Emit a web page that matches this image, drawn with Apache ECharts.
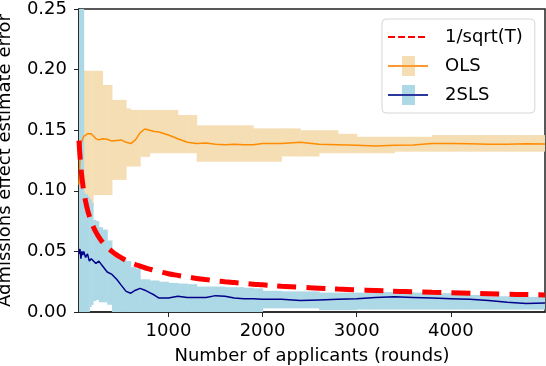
<!DOCTYPE html>
<html>
<head>
<meta charset="utf-8">
<script src="https://cdn.jsdelivr.net/npm/echarts@6/dist/echarts.min.js"></script>
<style>
  html, body { margin: 0; padding: 0; background: #fff; }
  #chart { width: 546px; height: 366px; }
</style>
</head>
<body>
<div id="chart"></div>
<script>
// rounds (number of applicants) sampled along the x axis
const rounds = [50, 60, 70, 80, 90, 100, 120, 140, 160, 180, 200, 230, 260, 300, 350, 400, 450, 500,
  550, 600, 650, 700, 750, 800, 850, 900, 1000, 1100, 1200, 1300, 1400, 1500, 1600, 1700, 1800, 1900,
  2000, 2200, 2400, 2600, 2800, 3000, 3200, 3400, 3600, 3800, 4000, 4200, 4400, 4600, 4800, 5000]

// 1/sqrt(T) reference curve
const refCurve = [0.1414, 0.1291, 0.1195, 0.1118, 0.1054, 0.1, 0.0913, 0.0845, 0.0791, 0.0745, 0.0707,
  0.0659, 0.062, 0.0577, 0.0535, 0.05, 0.0471, 0.0447, 0.0426, 0.0408, 0.0392, 0.0378, 0.0365, 0.0354,
  0.0343, 0.0333, 0.0316, 0.0302, 0.0289, 0.0277, 0.0267, 0.0258, 0.025, 0.0243, 0.0236, 0.0229,
  0.0224, 0.0213, 0.0204, 0.0196, 0.0189, 0.0183, 0.0177, 0.0171, 0.0167, 0.0162, 0.0158, 0.0154,
  0.0151, 0.0147, 0.0144, 0.0141]

const olsMean = [0.105, 0.125, 0.138, 0.141, 0.143, 0.145, 0.146, 0.147, 0.148, 0.147, 0.146,
  0.143, 0.142, 0.143, 0.1425, 0.141, 0.1415, 0.142, 0.140, 0.139, 0.142, 0.148, 0.151, 0.150,
  0.149, 0.1485, 0.146, 0.143, 0.140, 0.139, 0.1395, 0.1385, 0.138, 0.1385, 0.138, 0.138,
  0.139, 0.139, 0.140, 0.1385, 0.138, 0.1375, 0.137, 0.1375, 0.1378, 0.139, 0.139, 0.1388,
  0.1385, 0.1385, 0.1388, 0.1387]
const olsLow = [0.10, 0.081, 0.081, 0.081, 0.081, 0.081, 0.081, 0.087, 0.087, 0.087, 0.0965,
  0.0965, 0.0965, 0.0965, 0.0965, 0.109, 0.109, 0.109, 0.12, 0.12, 0.12, 0.128, 0.128, 0.131,
  0.131, 0.131, 0.131, 0.131, 0.131, 0.124, 0.124, 0.124, 0.124, 0.124, 0.124, 0.124,
  0.124, 0.1283, 0.1283, 0.131, 0.131, 0.131, 0.131, 0.1323, 0.1323, 0.1323, 0.1323, 0.1323,
  0.1323, 0.1323, 0.1323, 0.1323]
const olsHigh = [0.20, 0.199, 0.199, 0.199, 0.199, 0.199, 0.199, 0.199, 0.199, 0.199, 0.199,
  0.199, 0.199, 0.1873, 0.1873, 0.175, 0.175, 0.175, 0.168, 0.1667, 0.1667, 0.1667, 0.1667, 0.1667,
  0.1667, 0.1667, 0.1667, 0.1625, 0.1625, 0.154, 0.154, 0.154, 0.154, 0.154, 0.154, 0.1515,
  0.1515, 0.1515, 0.150, 0.150, 0.147, 0.1446, 0.1446, 0.1446, 0.1446, 0.146, 0.146, 0.146,
  0.146, 0.146, 0.146, 0.146]

const tslsMean = [0.048, 0.052, 0.044, 0.05, 0.047, 0.05, 0.045, 0.048, 0.042, 0.044, 0.043,
  0.040, 0.042, 0.038, 0.033, 0.031, 0.027, 0.022, 0.017, 0.0155, 0.018, 0.0195, 0.018, 0.016,
  0.014, 0.0115, 0.0115, 0.013, 0.012, 0.012, 0.012, 0.0135, 0.013, 0.0115, 0.011, 0.011,
  0.0105, 0.0105, 0.0095, 0.01, 0.0105, 0.011, 0.012, 0.0125, 0.012, 0.0115, 0.011, 0.0105,
  0.0095, 0.008, 0.007, 0.0075]
const tslsLow = [0, 0, 0, 0, 0, 0, 0, 0, 0.004, 0.006, 0.009,
  0.01, 0.008, 0.008, 0.006, 0, 0, 0, 0, 0, 0, 0, 0, 0,
  0, 0, 0, 0, 0, 0, 0, 0, 0, 0, 0, 0,
  0.003, 0.003, 0.003, 0.0015, 0.0015, 0.002, 0.002, 0.002, 0.002, 0.002, 0.002, 0.002,
  0.002, 0.002, 0.002, 0.002]
const tslsHigh = [0.3, 0.3, 0.3, 0.3, 0.3, 0.098, 0.097, 0.095, 0.093, 0.090, 0.076,
  0.075, 0.070, 0.068, 0.059, 0.048, 0.045, 0.044, 0.042, 0.037, 0.036, 0.027, 0.027, 0.026,
  0.026, 0.025, 0.024, 0.0235, 0.023, 0.021, 0.021, 0.021, 0.0205, 0.0205, 0.020, 0.0195,
  0.0175, 0.017, 0.017, 0.016, 0.016, 0.016, 0.0165, 0.0165, 0.016, 0.0155, 0.0145, 0.014,
  0.013, 0.013, 0.0125, 0.0125]

const xTicks = [1000, 2000, 3000, 4000]
const yTicks = [0, 0.05, 0.1, 0.15, 0.2, 0.25]

const font = 'DejaVu Sans'

function pairs(vals) {
  return rounds.map((t, i) => [t, vals[i]])
}
// each band step: [from, to, low, high]
function steps(low, high) {
  const out = []
  for (let i = 0; i < rounds.length - 1; i++) {
    out.push([rounds[i], rounds[i + 1], low[i], high[i]])
  }
  return out
}
function icon(svg) {
  return 'image://data:image/svg+xml;charset=utf-8,' + encodeURIComponent(svg)
}
const iconRef = icon('<svg xmlns="http://www.w3.org/2000/svg" width="40" height="24"><line x1="0" y1="12" x2="40" y2="12" stroke="#ff0000" stroke-width="2" stroke-dasharray="7,3"/></svg>')
const iconOls = icon('<svg xmlns="http://www.w3.org/2000/svg" width="40" height="24"><rect x="14" y="2" width="13" height="20" fill="#f5deb3"/><line x1="0" y1="12" x2="40" y2="12" stroke="#ff9a33" stroke-width="2"/></svg>')
const iconTsls = icon('<svg xmlns="http://www.w3.org/2000/svg" width="40" height="24"><rect x="14" y="2" width="13" height="20" fill="#add8e6"/><line x1="0" y1="12" x2="40" y2="12" stroke="#2a389c" stroke-width="2"/></svg>')

function band(name, data, color) {
  return {
    name: name,
    type: 'custom',
    silent: true,
    data: data,
    encode: { x: [0, 1], y: [2, 3] },
    renderItem: function(params, api) {
      const p0 = api.coord([api.value(0), api.value(3)])
      const p1 = api.coord([api.value(1), api.value(2)])
      const shape = echarts.graphic.clipRectByRect({
        x: p0[0], y: p0[1], width: p1[0] - p0[0] + 0.5, height: p1[1] - p0[1]
      }, {
        x: params.coordSys.x, y: params.coordSys.y,
        width: params.coordSys.width, height: params.coordSys.height
      })
      return shape && { type: 'rect', shape: shape, style: { fill: color } }
    }
  }
}

const chart = echarts.init(document.getElementById('chart'), null, { renderer: 'canvas' })
chart.setOption({
  animation: false,
  backgroundColor: '#fff',
  grid: {
    left: 79, right: 1, top: 9, bottom: 54,
    outerBoundsMode: 'none',
    containLabel: false,
    show: true, borderColor: '#222', borderWidth: 1.5
  },
  legend: {
    orient: 'vertical',
    left: 382, top: 19,
    padding: [6, 12, 6, 6],
    itemGap: 5,
    itemWidth: 40, itemHeight: 24,
    borderColor: '#d6d6d6', borderWidth: 1, borderRadius: 4,
    backgroundColor: '#fff',
    textStyle: { fontFamily: font, fontSize: 18, color: '#000', padding: [0, 0, 0, 12] },
    data: [
      { name: '1/sqrt(T)', icon: iconRef },
      { name: 'OLS', icon: iconOls },
      { name: '2SLS', icon: iconTsls }
    ]
  },
  xAxis: {
    type: 'value',
    min: 50, max: 5000,
    name: 'Number of applicants (rounds)',
    nameLocation: 'middle',
    nameGap: 35,
    nameTextStyle: { fontFamily: font, fontSize: 18, color: '#000' },
    splitLine: { show: false },
    axisLine: { show: true, lineStyle: { color: '#222', width: 1.5 } },
    axisTick: { show: true, length: 5, lineStyle: { color: '#222' }, customValues: xTicks },
    axisLabel: {
      fontFamily: font, fontSize: 18, color: '#000', margin: 10, customValues: xTicks,
      formatter: v => String(v)
    }
  },
  yAxis: {
    type: 'value',
    min: 0, max: 0.25, interval: 0.05,
    name: 'Admissions effect estimate error',
    nameLocation: 'middle',
    nameGap: 65,
    nameTextStyle: { fontFamily: font, fontSize: 18, color: '#000' },
    splitLine: { show: false },
    axisLine: { show: true, lineStyle: { color: '#222', width: 1.5 } },
    axisTick: { show: true, length: 5, lineStyle: { color: '#222' }, customValues: yTicks },
    axisLabel: {
      fontFamily: font, fontSize: 18, color: '#000', margin: 12,
      customValues: yTicks,
      formatter: v => v.toFixed(2)
    }
  },
  series: [
    band('olsBand', steps(olsLow, olsHigh), '#f5deb3'),
    {
      name: 'OLS', type: 'line', data: pairs(olsMean), symbol: 'none',
      lineStyle: { color: '#ff8c00', width: 1.5 }, itemStyle: { color: '#ff8c00' }
    },
    band('tslsBand', steps(tslsLow, tslsHigh), '#add8e6'),
    {
      name: '2SLS', type: 'line', data: pairs(tslsMean), symbol: 'none',
      lineStyle: { color: '#00008b', width: 1.5 }, itemStyle: { color: '#00008b' }
    },
    {
      name: '1/sqrt(T)', type: 'line', data: pairs(refCurve), symbol: 'none', smooth: true,
      lineStyle: { color: '#ff0000', width: 5, type: [19, 10] }, itemStyle: { color: '#ff0000' }
    }
  ]
})
</script>
</body>
</html>
